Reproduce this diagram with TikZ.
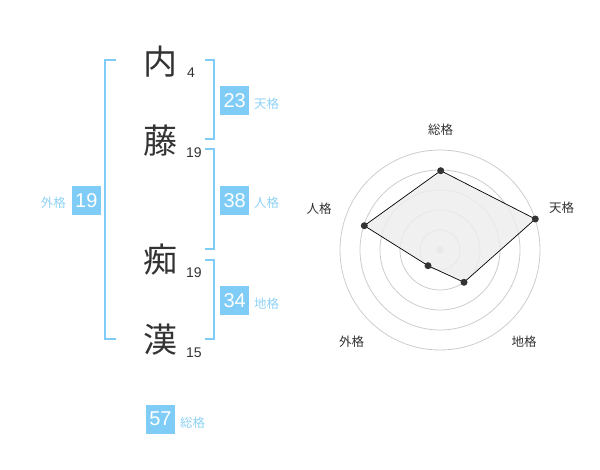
\documentclass[tikz,border=0pt]{standalone}
\usepackage{fontspec}
\setmainfont{Liberation Sans}
\newfontfamily\cjk{Noto Sans CJK JP}
\definecolor{bbox}{HTML}{7FCCF7}
\definecolor{blab}{HTML}{8FD2F5}
\definecolor{bline}{HTML}{7FCCF7}
\definecolor{ink}{HTML}{333333}
\definecolor{ring}{HTML}{CCCCCC}
\begin{document}
\begin{tikzpicture}[x=1pt,y=-1pt,
  kanji/.style={font=\cjk\fontsize{34}{34}\selectfont,text=ink,inner sep=0pt},
  stroke/.style={font=\fontsize{14}{14}\selectfont,text=ink,inner sep=0pt,anchor=west},
  numbox/.style={fill=bbox,text=white,font=\fontsize{20}{20}\selectfont,minimum width=29pt,minimum height=29pt,inner sep=0pt},
  kaku/.style={font=\cjk\fontsize{12.5}{12.5}\selectfont,text=blab,inner sep=0pt},
  bracket/.style={draw=bline,line width=2pt},
  rlab/.style={font=\cjk\fontsize{12.5}{12.5}\selectfont,text=ink,inner sep=0pt},
  dot/.style={circle,fill=ink,inner sep=0pt,minimum size=7pt}]
\useasboundingbox (0,0) rectangle (600,470);
% names
\node[kanji] (k1) at (160,62) {内};
\node[kanji] (k2) at (160,141) {藤};
\node[kanji] (k3) at (160,260) {痴};
\node[kanji] (k4) at (160,340) {漢};
\node[stroke] (s1) at (187,73) {4};
\node[stroke] (s2) at (186,153) {19};
\node[stroke] (s3) at (186,273) {19};
\node[stroke] (s4) at (186,353) {15};
% brackets
\draw[bracket] (116,60) -- (105,60) -- (105,339) -- (116,339);
\draw[bracket] (205,60) -- (214,60) -- (214,139) -- (205,139);
\draw[bracket] (205,149) -- (214,149) -- (214,249) -- (205,249);
\draw[bracket] (205,260) -- (214,260) -- (214,339) -- (205,339);
% boxes
\node[numbox] (b1) at (234.7,100.5) {23};
\node[kaku,anchor=west] (l1) at (254,104) {天格};
\node[numbox] (b2) at (234.7,200.5) {38};
\node[kaku,anchor=west] (l2) at (254,203) {人格};
\node[numbox] (b3) at (234.7,300.5) {34};
\node[kaku,anchor=west] (l3) at (254,304) {地格};
\node[numbox] (b4) at (86.3,200.5) {19};
\node[kaku,anchor=east] (l4) at (66,203) {外格};
\node[numbox] (b5) at (160.5,419) {57};
\node[kaku,anchor=west] (l5) at (180,422.5) {総格};
% radar
\coordinate (c) at (440,250);
\foreach \r in {20,40,60,80,100} \draw[ring,line width=0.8pt] (c) circle (\r);
\fill[ring] (c) circle (3.5);
\coordinate (p1) at (440.7,170.7);
\coordinate (p2) at (535.3,219);
\coordinate (p3) at (464,282.3);
\coordinate (p4) at (428,265.7);
\coordinate (p5) at (364.3,225.7);
\filldraw[fill=black!7,fill opacity=0.85,draw=black,line width=0.7pt] (p1) -- (p2) -- (p3) -- (p4) -- (p5) -- cycle;
\foreach \p in {p1,p2,p3,p4,p5} \node[dot] at (\p) {};
\node[rlab] (r1) at (440.7,130) {総格};
\node[rlab] (r2) at (561.7,208) {天格};
\node[rlab] (r3) at (524,341.7) {地格};
\node[rlab] (r4) at (351.7,341.7) {外格};
\node[rlab] (r5) at (319,209) {人格};
\end{tikzpicture}
\end{document}
